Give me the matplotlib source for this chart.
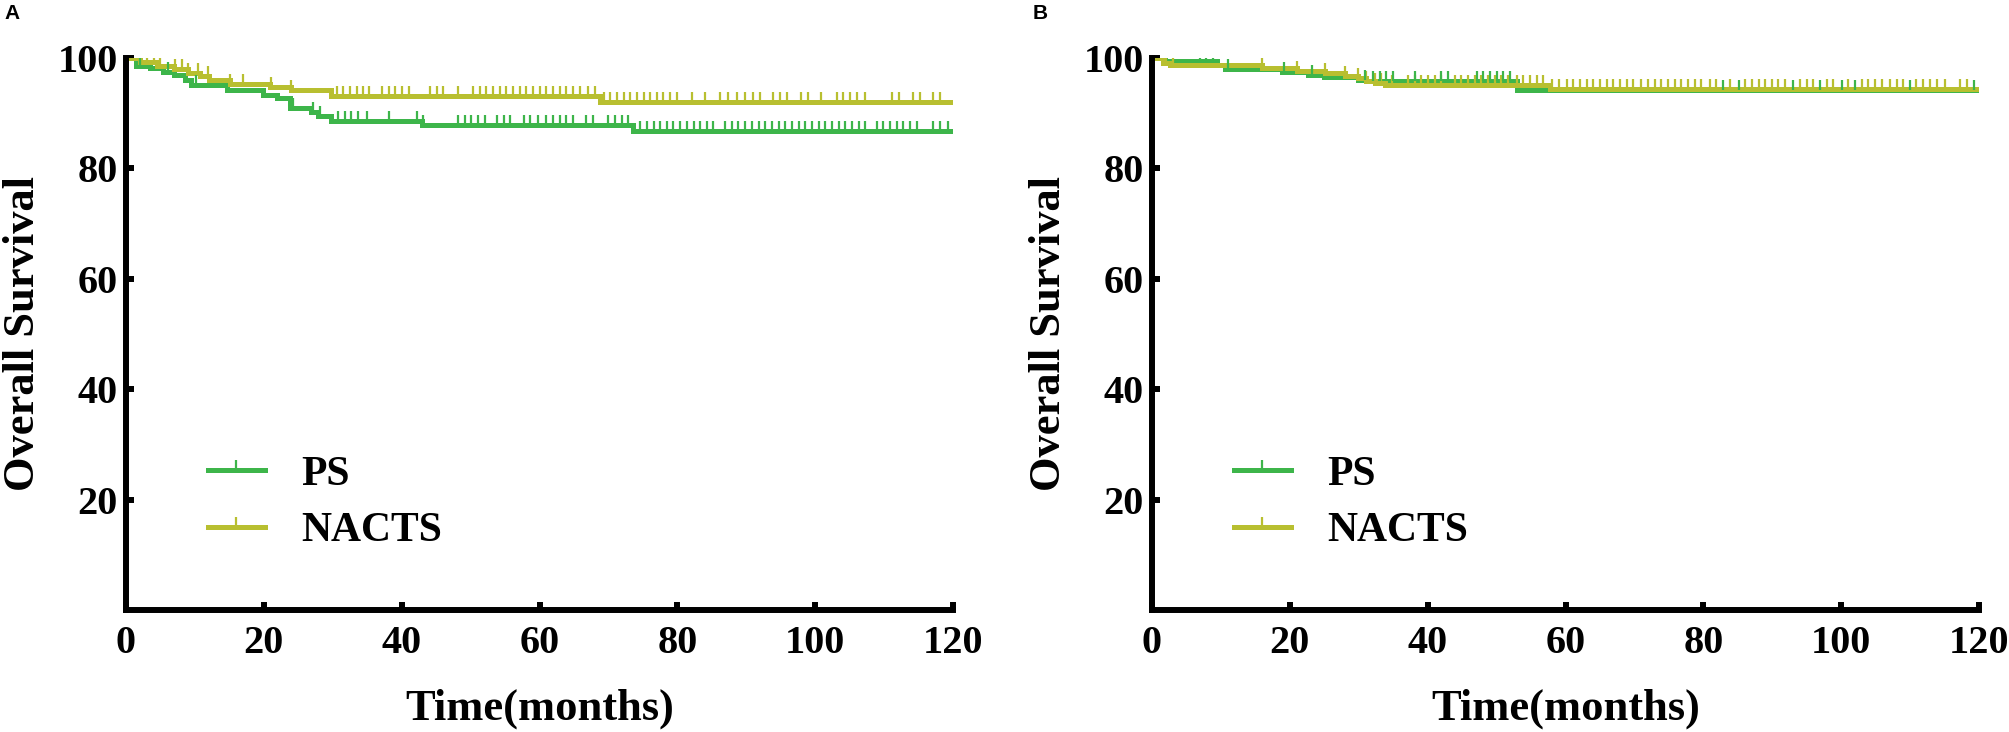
import matplotlib
matplotlib.use("Agg")
import matplotlib.pyplot as plt
from matplotlib.lines import Line2D
import numpy as np

plt.rcParams['font.family'] = ['Liberation Serif', 'DejaVu Serif']
plt.rcParams['font.weight'] = 'bold'
plt.rcParams['axes.labelweight'] = 'bold'

GREEN = '#3db54a'
YELLOW = '#b8bf30'

# ---- panel A : step curves (time in months, survival %) ----
ps_a_t = [0, 1.5, 3.5, 5.4, 6.9, 8.6, 9.5, 14.6, 19.9, 21.9, 23.8, 26.9, 27.9, 29.8, 42.9, 73.6]
ps_a_s = [100, 98.6, 98.1, 97.5, 96.9, 96.1, 95.1, 94.2, 93.3, 92.7, 90.9, 90.3, 89.4, 88.5, 87.8, 86.8]
nacts_a_t = [0, 2.0, 4.5, 6.9, 9.0, 10.7, 12.0, 15.1, 20.9, 24.0, 29.8, 68.8]
nacts_a_s = [100, 99.2, 98.6, 98.0, 97.3, 96.7, 96.0, 95.3, 94.7, 94.2, 93.1, 92.0]

# censored times, panel A
ps_a_c = [2.0, 6.1, 10.2, 24.3, 27.2, 28.1, 30.8, 31.8, 32.7, 33.7, 34.9, 38.1, 42.2, 43.1,
          48.2, 49.2, 50.1, 51.1, 52.1, 53.8, 54.8, 55.7, 57.7, 58.6, 59.8, 61.0, 62.0, 63.0,
          63.9, 64.9, 66.8, 67.8, 70.0, 70.9, 71.9, 72.9, 74.6, 75.6, 76.6, 77.5, 78.5, 79.4,
          80.4, 81.4, 82.4, 83.3, 84.3, 85.2, 86.9, 87.9, 88.8, 89.8, 90.8, 91.8, 92.7, 93.7,
          94.7, 95.6, 96.6, 97.6, 98.5, 99.5, 100.5, 101.4, 102.4, 103.4, 104.3, 105.3, 106.3,
          107.2, 108.9, 109.9, 110.9, 111.8, 112.8, 113.8, 114.7, 117.1, 118.1, 119.3]
nacts_a_c = [1.1, 3.0, 4.0, 5.0, 7.1, 8.1, 9.0, 10.5, 11.9, 15.1, 17.0, 21.1, 24.0, 30.6, 31.5,
             32.5, 33.5, 34.4, 35.2, 37.1, 38.1, 39.0, 40.0, 41.0, 44.1, 45.1, 46.0, 48.2, 50.4,
             51.4, 52.3, 53.3, 54.3, 55.2, 56.2, 57.2, 58.1, 59.1, 60.1, 61.0, 62.0, 63.0, 63.9,
             64.9, 65.9, 67.1, 68.0, 69.3, 70.2, 71.2, 72.2, 73.1, 74.1, 75.1, 76.0, 77.0, 77.9,
             78.9, 79.9, 82.1, 84.0, 86.2, 87.4, 88.6, 89.8, 91.0, 92.0, 93.9, 94.9, 95.9, 98.0,
             99.0, 100.9, 103.1, 104.1, 105.0, 106.0, 107.2, 111.1, 112.1, 114.2, 115.2, 117.1, 118.1]

# ---- panel B ----
ps_b_t = [0, 1.9, 9.4, 10.6, 18.8, 22.7, 24.9, 29.9, 31.1, 52.9]
ps_b_s = [100, 99.5, 98.7, 98.0, 97.4, 97.0, 96.5, 96.1, 95.8, 94.2]
nacts_b_t = [0, 1.6, 2.6, 15.9, 21.0, 25.1, 28.0, 29.9, 31.1, 32.4, 33.8, 57.7]
nacts_b_s = [100, 99.1, 98.7, 98.1, 97.7, 97.2, 96.7, 96.3, 95.8, 95.5, 95.1, 94.3]

ps_b_c = [7.0, 7.9, 8.9, 11.1, 19.1, 23.2, 30.9, 32.1, 33.1, 34.0, 35.0, 38.2, 42.0, 43.0,
          47.1, 48.1, 49.0, 50.0, 51.0, 52.0, 82.9, 85.1, 93.0, 96.9, 100.1, 102.0, 110.0, 119.2]
nacts_b_c = [2.0, 3.1, 15.9, 21.0, 25.1, 28.0, 29.9, 31.1, 32.4, 33.3, 34.8, 37.2, 38.2, 39.1,
             40.1, 41.1, 42.0, 44.0, 44.9, 45.9, 46.9, 47.8, 48.8, 49.8, 50.7, 51.7, 52.9, 53.9,
             54.8, 55.8, 56.8, 58.0, 59.0, 60.2, 61.1, 62.1, 63.1, 64.0, 65.0, 66.0, 66.9, 67.9,
             68.9, 69.8, 71.0, 72.0, 73.0, 73.9, 74.9, 75.9, 76.8, 77.8, 78.8, 79.7, 81.0, 81.9,
             83.9, 86.0, 87.0, 88.0, 88.9, 89.9, 90.9, 91.8, 94.0, 95.0, 95.9, 97.9, 98.8, 101.0,
             103.0, 103.9, 104.9, 105.9, 107.1, 108.1, 109.0, 110.9, 111.9, 112.9, 113.9, 115.1,
             117.2, 118.2]

x_ticks = [0, 20, 40, 60, 80, 100, 120]
y_ticks = [20, 40, 60, 80, 100]
labels = ['PS', 'NACTS']

TICK = [(0, 0), (0, 1)]   # upward censor tick
LW = 3.6
MS = 14.4
MEW = 1.6


def step_curve(ax, t, s, color):
    t = np.asarray(t + [120.0])
    s = np.asarray(s + [s[-1]])
    ax.step(t, s, where='post', color=color, lw=LW, solid_joinstyle='miter')
    return t, s


def censor(ax, t, s, c, color):
    c = np.asarray(c)
    idx = np.searchsorted(t, c, side='right') - 1
    ax.plot(c, s[idx], ls='none', marker=TICK, ms=MS, mew=MEW, color=color)


def panel(ax, ps, nacts):
    tp, sp = step_curve(ax, ps[0], ps[1], GREEN)
    tn, sn = step_curve(ax, nacts[0], nacts[1], YELLOW)
    censor(ax, tn, sn, nacts[2], YELLOW)
    censor(ax, tp, sp, ps[2], GREEN)

    ax.set_xlim(0, 120)
    ax.set_ylim(0, 100)
    ax.set_xticks(x_ticks)
    ax.set_yticks(y_ticks)
    for sp_name in ['top', 'right']:
        ax.spines[sp_name].set_visible(False)
    for sp_name in ['left', 'bottom']:
        ax.spines[sp_name].set_linewidth(4.3)
        ax.spines[sp_name].set_capstyle('projecting')
    ax.tick_params(direction='in', length=6, width=4.3, labelsize=29)
    ax.tick_params(axis='x', pad=11)
    ax.tick_params(axis='y', pad=6)
    ax.set_xlabel('Time(months)', fontsize=32, fontweight='bold', va='center')
    ax.set_ylabel('Overall Survival', fontsize=32, fontweight='bold', va='center', ha='center')
    ax.xaxis.set_label_coords(0.5, -0.179)
    ax.yaxis.set_label_coords(-0.124, 0.5)

    handles = [Line2D([0], [0], color=GREEN, lw=LW, marker=TICK, ms=MS, mew=MEW),
               Line2D([0], [0], color=YELLOW, lw=LW, marker=TICK, ms=MS, mew=MEW)]
    ax.legend(handles, labels, loc='upper left', bbox_to_anchor=(0.099, 0.28),
              frameon=False, fontsize=30, numpoints=1, handlelength=1.37,
              handletextpad=0.86, labelspacing=0.45, borderpad=0, borderaxespad=0)


fig = plt.figure(figsize=(20.09, 7.32), dpi=100)
ax1 = fig.add_axes([0.0627, 0.1667, 0.4117, 0.7541])
ax2 = fig.add_axes([0.5734, 0.1667, 0.4117, 0.7541])

panel(ax1, (ps_a_t, ps_a_s, ps_a_c), (nacts_a_t, nacts_a_s, nacts_a_c))
panel(ax2, (ps_b_t, ps_b_s, ps_b_c), (nacts_b_t, nacts_b_s, nacts_b_c))

fig.text(0.002, 0.981, 'A', fontsize=15, family='Liberation Sans', weight='bold', va='center')
fig.text(0.514, 0.981, 'B', fontsize=15, family='Liberation Sans', weight='bold', va='center')

fig.savefig('out.png', dpi=100)
